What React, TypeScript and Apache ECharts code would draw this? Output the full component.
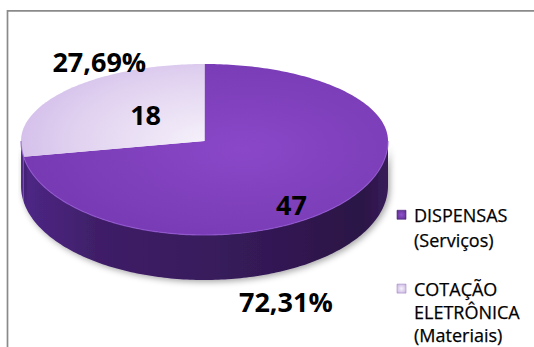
import React, { useEffect, useRef } from 'react';
import * as echarts from 'echarts';

// Procurement counts by modality
const categories = ['DISPENSAS (Serviços)', 'COTAÇÃO ELETRÔNICA (Materiais)'];
const legendLines = [
  ['DISPENSAS', '(Serviços)'],
  ['COTAÇÃO', 'ELETRÔNICA', '(Materiais)'],
];
const counts = [47, 18];

const W = 534;
const H = 347;

// Tilted-disc geometry (back half is foreshortened more than the front half)
const PIE = { cx: 204.5, cy: 141, rx: 183.5, ryBack: 77, ryFront: 94, depth: 45 };

// Label anchors as fractions of the radii along each slice's mid angle
const LABEL_POS = [
  { inner: [0.62, 1.04], outer: [0.58, 2.64] },
  { inner: [0.42, 0.54], outer: [0.75, 1.61] },
];

const TOP_FILL: any[] = [
  {
    type: 'radial', x: 0.6, y: 0.5, r: 1.1,
    colorStops: [
      { offset: 0, color: '#8a48c8' },
      { offset: 0.55, color: '#773ab3' },
      { offset: 1, color: '#67309c' },
    ],
  },
  {
    type: 'radial', x: 1, y: 0.83, r: 2.0,
    colorStops: [
      { offset: 0, color: '#f5f0fa' },
      { offset: 0.35, color: '#e1d2f0' },
      { offset: 1, color: '#ad86d9' },
    ],
  },
];

const SIDE_FILL: any[] = [
  {
    type: 'linear', x: 0, y: 0, x2: 1, y2: 0,
    colorStops: [
      { offset: 0, color: '#4e2686' },
      { offset: 0.2, color: '#3f1f68' },
      { offset: 0.6, color: '#351a58' },
      { offset: 0.93, color: '#2b1446' },
      { offset: 1, color: '#381d5a' },
    ],
  },
  {
    type: 'linear', x: 0, y: 0, x2: 1, y2: 0,
    colorStops: [
      { offset: 0, color: '#56308c' },
      { offset: 1, color: '#502a86' },
    ],
  },
];

const RIM = ['#9358d2', '#8c5cc6'];

const LEGEND_MARK: any[] = [
  {
    type: 'radial', x: 0.5, y: 0.5, r: 0.7,
    colorStops: [
      { offset: 0, color: '#8f52cc' },
      { offset: 1, color: '#5a2a8e' },
    ],
  },
  {
    type: 'radial', x: 0.5, y: 0.5, r: 0.7,
    colorStops: [
      { offset: 0, color: '#f6f2fa' },
      { offset: 1, color: '#c4aee0' },
    ],
  },
];

function pt(deg: number, dy = 0): number[] {
  const a = (deg * Math.PI) / 180;
  const s = Math.sin(a);
  const ry = s > 0 ? PIE.ryBack : PIE.ryFront;
  return [PIE.cx + PIE.rx * Math.cos(a), PIE.cy - ry * s + dy];
}

function arc(from: number, to: number, dy = 0): number[][] {
  const n = Math.max(2, Math.ceil(Math.abs(from - to)));
  const pts: number[][] = [];
  for (let i = 0; i <= n; i++) pts.push(pt(from + ((to - from) * i) / n, dy));
  return pts;
}

// Parts of [end, start] that face the viewer (lower half of the disc)
function frontParts(start: number, end: number): number[][] {
  const parts: number[][] = [];
  for (let k = -2; k <= 2; k++) {
    const lo = Math.max(end, -180 + 360 * k);
    const hi = Math.min(start, 360 * k);
    if (hi > lo) parts.push([hi, lo]);
  }
  return parts;
}

function pct(v: number, total: number): string {
  return ((v / total) * 100).toFixed(2).replace('.', ',') + '%';
}

export default function App() {
  const ref = useRef<HTMLDivElement>(null);

  useEffect(() => {
    if (!ref.current) return;
    const chart = echarts.init(ref.current, null, { renderer: 'svg' });
    const total = counts.reduce((a, b) => a + b, 0);

    const legendGraphics: any[] = [];
    const legendTops = [202, 277];
    const legendLineHeights = [25.5, 23.2];
    legendLines.forEach((lines, i) => {
      const y0 = legendTops[i];
      const lh = legendLineHeights[i];
      legendGraphics.push({
        type: 'rect',
        shape: { x: 397, y: y0 + lh / 2 - 4.5, width: 9, height: 9 },
        style: { fill: LEGEND_MARK[i], stroke: i === 0 ? '#4a2276' : '#a48cc4', lineWidth: 0.6 },
      });
      legendGraphics.push({
        type: 'text',
        x: 414,
        y: y0,
        style: {
          text: lines.join('\n'),
          font: '18px "Open Sans"',
          lineHeight: lh,
          fill: '#000',
          stroke: '#000',
          lineWidth: 0.25,
          verticalAlign: 'top',
          align: 'left',
        },
      });
    });

    const option: any = {
      animation: false,
      backgroundColor: '#ffffff',
      graphic: [
        {
          type: 'rect',
          shape: { x: 7.5, y: 10.8, width: 700, height: 500 },
          style: { fill: 'none', stroke: '#8a8a8a', lineWidth: 1.7 },
          z: -1,
        },
        ...legendGraphics,
      ],
      series: [
        {
          type: 'custom',
          coordinateSystem: 'none',
          data: categories.map((name, i) => ({ name, value: counts[i] })),
          renderItem: (params: any, api: any) => {
            const i = params.dataIndex;
            const v = api.value(0);
            let before = 0;
            for (let j = 0; j < i; j++) before += counts[j];
            const start = 90 - (360 * before) / total;
            const end = start - (360 * v) / total;
            const children: any[] = [];

            frontParts(start, end).forEach(([hi, lo]) => {
              const top = arc(hi, lo);
              const bottom = arc(lo, hi, PIE.depth);
              children.push({
                type: 'polygon',
                shape: { points: top.concat(bottom) },
                style: {
                  fill: SIDE_FILL[i],
                  shadowColor: 'rgba(0,0,0,0.35)',
                  shadowBlur: 6,
                  shadowOffsetX: 2,
                  shadowOffsetY: 2,
                },
                z2: 1,
              });
              children.push({
                type: 'polyline',
                shape: { points: top },
                style: { stroke: RIM[i], lineWidth: 1.2, fill: null, opacity: 0.8 },
                z2: 6,
              });
            });

            children.push({
              type: 'polygon',
              shape: { points: [[PIE.cx, PIE.cy]].concat(arc(start, end)) },
              style: { fill: TOP_FILL[i] },
              z2: 5,
            });

            const mid = ((start + end) / 2) * (Math.PI / 180);
            const c = Math.cos(mid);
            const s = Math.sin(mid);
            const ry = s > 0 ? PIE.ryBack : PIE.ryFront;
            const place = (f: number[]) => [PIE.cx + c * PIE.rx * f[0], PIE.cy - s * ry * f[1]];
            const inner = place(LABEL_POS[i].inner);
            const outer = place(LABEL_POS[i].outer);
            const labelStyle = {
              font: 'bold 27px "Open Sans"',
              fill: '#000',
              align: 'center',
              verticalAlign: 'middle',
            };
            children.push({
              type: 'text',
              x: inner[0],
              y: inner[1],
              style: { ...labelStyle, text: String(v) },
              z2: 10,
            });
            children.push({
              type: 'text',
              x: outer[0],
              y: outer[1],
              style: { ...labelStyle, text: pct(v, total) },
              z2: 10,
            });

            return { type: 'group', children };
          },
        },
      ],
    };

    chart.setOption(option);
    return () => chart.dispose();
  }, []);

  return (
    <div
      ref={ref}
      style={{ position: 'fixed', left: 0, top: 0, width: W, height: H }}
    />
  );
}
